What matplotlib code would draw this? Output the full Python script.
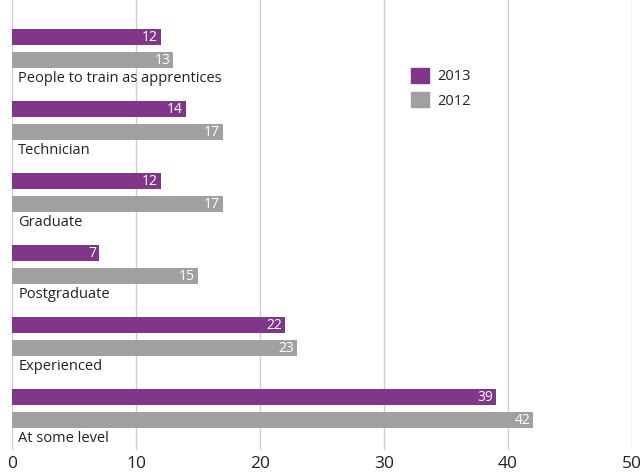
import numpy as np
import matplotlib
matplotlib.use("Agg")
import matplotlib.pyplot as plt
from matplotlib.patches import Patch

categories = ["People to train as apprentices", "Technician", "Graduate",
              "Postgraduate", "Experienced", "At some level"]
vals_2013 = [12, 14, 12, 7, 22, 39]
vals_2012 = [13, 17, 17, 15, 23, 42]
x_ticks = [0, 10, 20, 30, 40, 50]

PURPLE = "#813789"
GREY = "#a0a0a0"
TEXT = "#222222"

plt.rcParams["font.family"] = ["Open Sans", "DejaVu Sans"]

fig = plt.figure(figsize=(6.4, 4.72), dpi=100)
# axes spans pixels x 12..632, y 0..450
ax = fig.add_axes([12 / 640, 1 - 450 / 472, 620 / 640, 450 / 472])

pos = np.arange(len(categories))
h = 16 / 72
off = 23 / 72
ax.barh(pos, vals_2013, height=h, color=PURPLE, zorder=3)
ax.barh(pos + off, vals_2012, height=h, color=GREY, zorder=3)

for i, (a, b) in enumerate(zip(vals_2013, vals_2012)):
    ax.annotate(str(a), (a, i), xytext=(-2, 0), textcoords="offset points",
                ha="right", va="center", color="white", fontsize=10, zorder=4)
    ax.annotate(str(b), (b, i + off), xytext=(-2, 0), textcoords="offset points",
                ha="right", va="center", color="white", fontsize=10, zorder=4)
    ax.annotate(categories[i], (0, i + 41 / 72), xytext=(4.5, 0),
                textcoords="offset points", ha="left", va="center",
                color=TEXT, fontsize=10.5, zorder=4)

ax.set_xlim(0, 50)
ax.set_ylim((450 - 37) / 72, -37 / 72)
ax.set_xticks(x_ticks)
ax.set_yticks([])
ax.grid(axis="x", color="#d0d0d0", linewidth=1, zorder=0)
for s in ax.spines.values():
    s.set_visible(False)
ax.tick_params(axis="x", length=0, labelsize=12.5, labelcolor=TEXT, pad=4)

handles = [Patch(color=PURPLE, label="2013"), Patch(color=GREY, label="2012")]
ax.legend(handles=handles, loc="upper left", bbox_to_anchor=(0.632, 0.865),
          frameon=False, handlelength=1.2, handleheight=1.2, handletextpad=0.6,
          borderpad=0, labelspacing=0.55, fontsize=10.5, labelcolor=TEXT)

fig.savefig("out.png", dpi=100)
